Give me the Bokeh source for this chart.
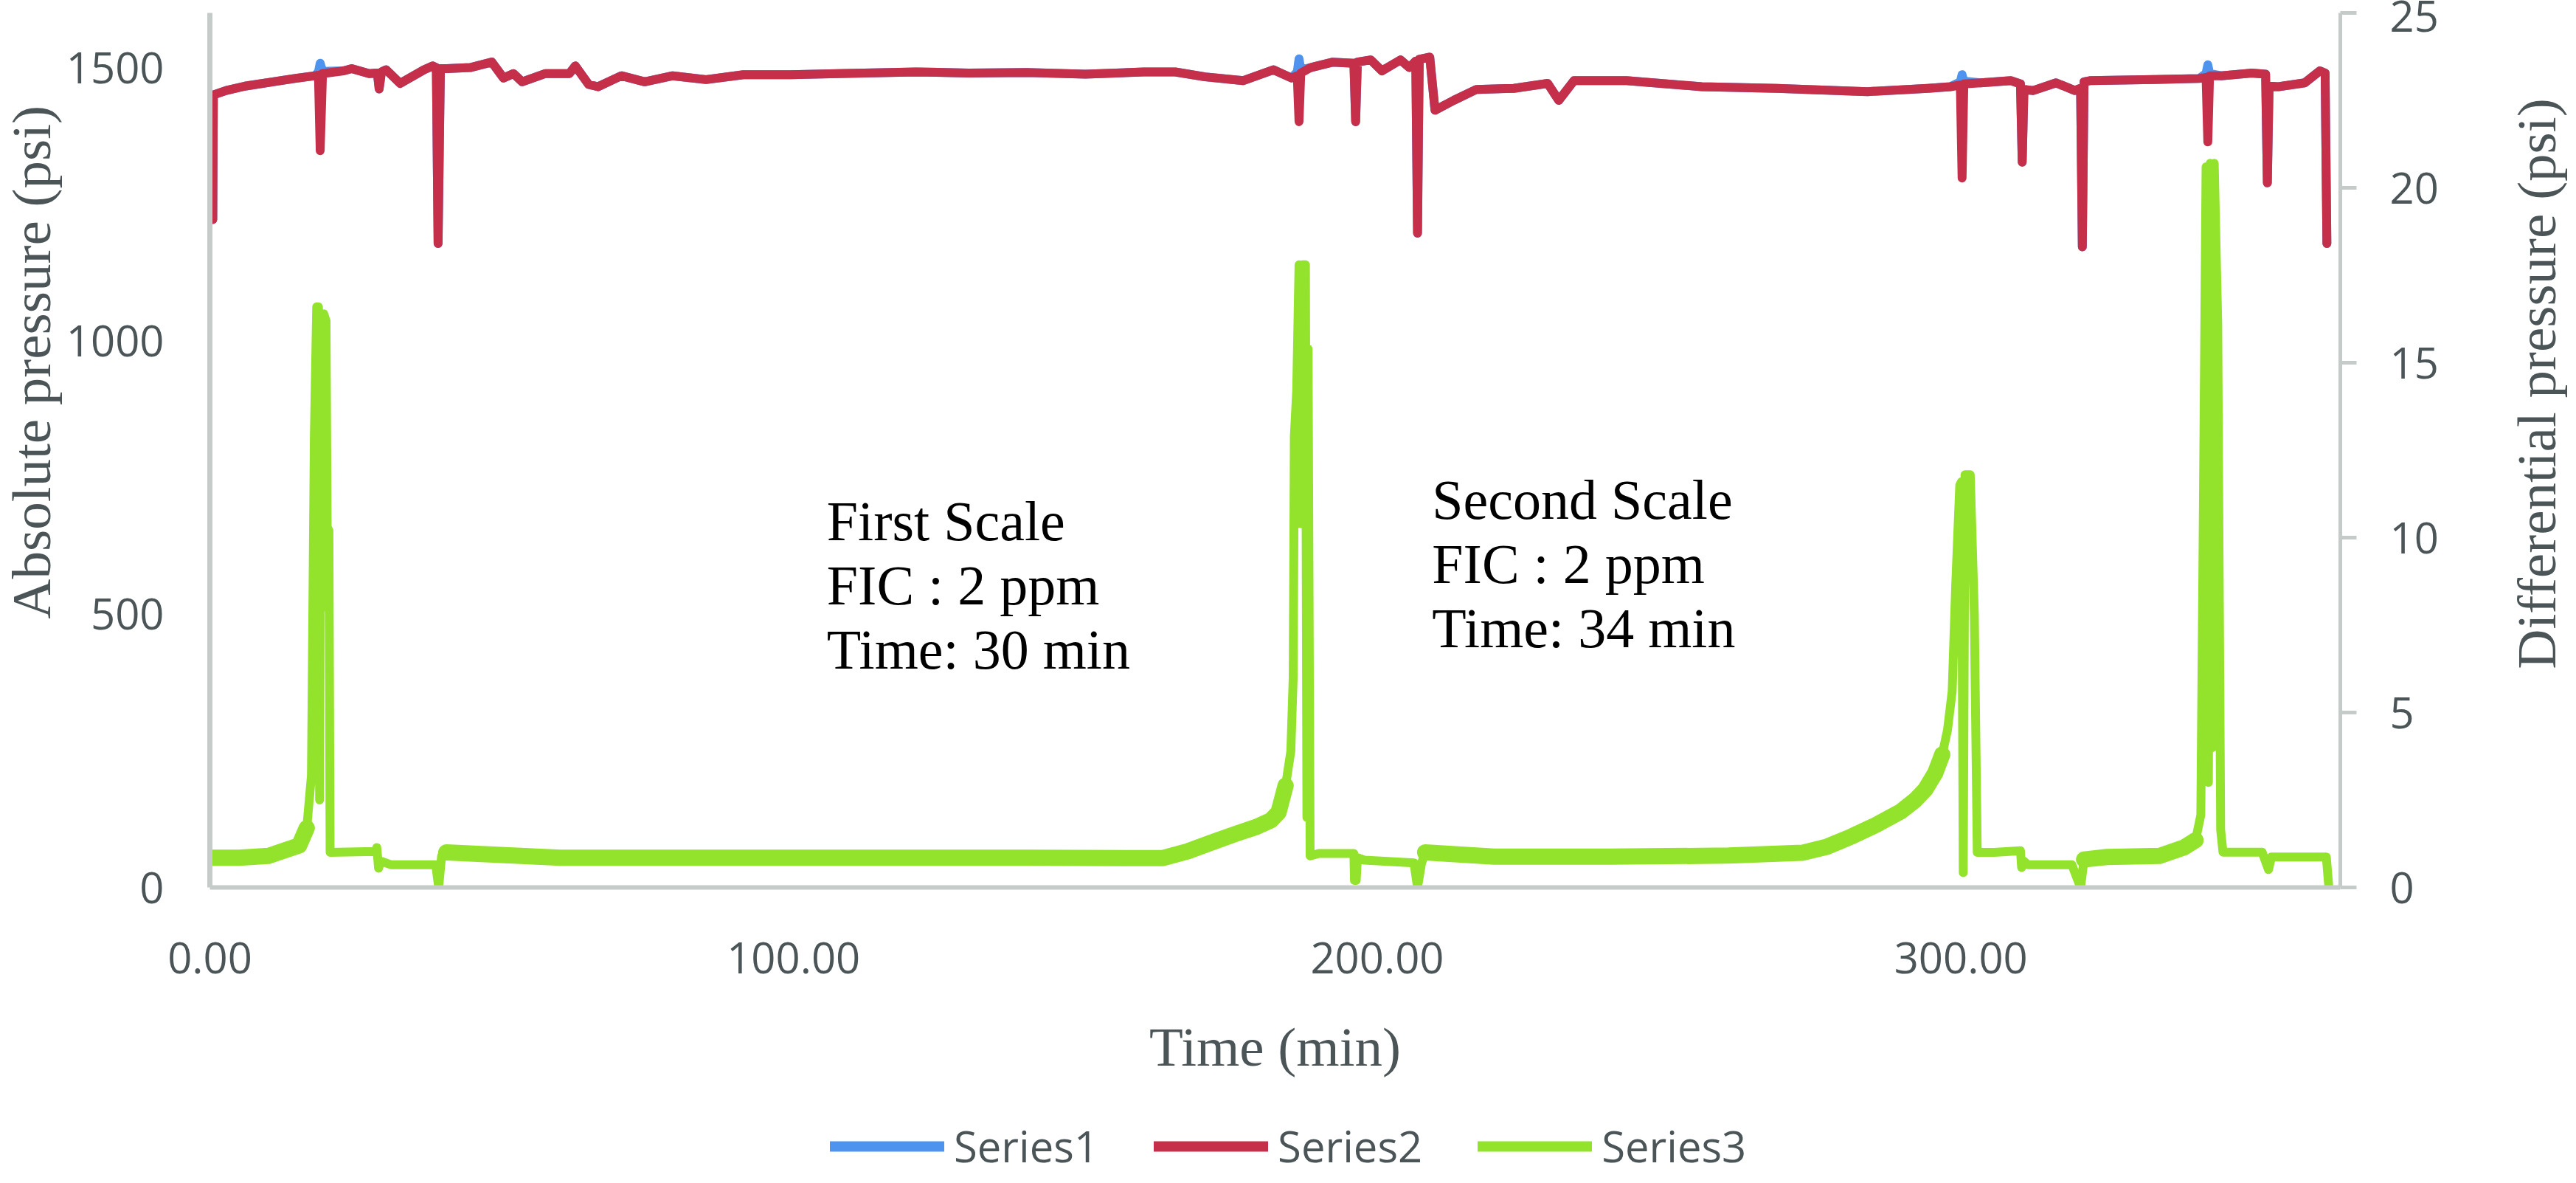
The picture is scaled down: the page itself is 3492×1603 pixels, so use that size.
import math
import numpy as np
from bokeh.plotting import figure
from bokeh.layouts import column, row
from bokeh.models import (Range1d, LinearAxis, FixedTicker, NumeralTickFormatter,
                          Label, Legend, LegendItem, ColumnDataSource)
from bokeh.embed import file_html
from bokeh.resources import INLINE

# ---------------- data ----------------
time_abs = [
    0.5, 0.6, 2.8, 6.0, 10.8, 14.5, 18.0, 18.6, 18.9, 19.3,
    22.9, 24.3, 27.3, 28.7, 29.0, 29.4, 30.2, 32.6, 36.7, 38.2,
    38.8, 39.1, 39.5, 40.6, 44.6, 48.3, 50.3, 52.0, 53.5, 57.5,
    61.6, 62.6, 64.9, 66.5, 70.5, 74.5, 79.3, 85.0, 91.4, 99.5,
    107.6, 121.0, 130.0, 140.0, 150.0, 160.0, 165.4, 170.5, 177.0, 182.2,
    185.3, 186.3, 186.6, 186.9, 188.6, 192.4, 196.0, 196.3, 196.6, 198.9,
    200.8, 204.0, 205.5, 206.6, 206.9, 207.2, 209.0, 209.9, 213.1, 217.0,
    223.4, 229.2, 231.1, 233.7, 242.7, 255.6, 268.5, 284.0, 294.3, 298.2,
    299.9, 300.2, 300.5, 303.4, 308.6, 310.2, 310.5, 310.8, 312.4, 316.3,
    319.5, 320.5, 320.8, 321.1, 322.1, 333.1, 340.8, 342.0, 342.3, 342.6,
    344.6, 349.8, 352.2, 352.5, 352.8, 354.4, 358.9, 361.5, 362.4, 362.7,
]
series2 = [
    1222, 1450, 1458, 1466, 1474, 1480, 1485, 1486, 1348, 1489,
    1494, 1498, 1489, 1490, 1461, 1492, 1496, 1471, 1496, 1503,
    1500, 1178, 1498, 1498, 1500, 1510, 1481, 1489, 1474, 1489,
    1489, 1503, 1469, 1465, 1485, 1474, 1485, 1478, 1487, 1487,
    1489, 1492, 1490, 1491, 1488, 1492, 1492, 1483, 1476, 1496,
    1481, 1485, 1401, 1490, 1500, 1510, 1508, 1401, 1510, 1514,
    1494, 1514, 1500, 1512, 1197, 1515, 1519, 1422, 1440, 1460,
    1462, 1471, 1440, 1476, 1476, 1465, 1462, 1456, 1462, 1465,
    1468, 1298, 1470, 1472, 1476, 1470, 1327, 1460, 1458, 1472,
    1458, 1462, 1172, 1474, 1476, 1478, 1480, 1482, 1364, 1485,
    1485, 1490, 1488, 1289, 1466, 1465, 1472, 1494, 1490, 1178,
]
series1 = [
    1222, 1450, 1458, 1466, 1474, 1480, 1485, 1492, 1508, 1493,
    1494, 1498, 1489, 1490, 1461, 1492, 1496, 1471, 1496, 1503,
    1500, 1178, 1498, 1498, 1500, 1510, 1481, 1489, 1474, 1489,
    1489, 1503, 1469, 1465, 1485, 1474, 1485, 1478, 1487, 1487,
    1489, 1492, 1490, 1491, 1488, 1492, 1492, 1483, 1476, 1496,
    1481, 1492, 1516, 1496, 1500, 1510, 1508, 1401, 1510, 1514,
    1494, 1514, 1500, 1512, 1197, 1515, 1519, 1422, 1440, 1460,
    1462, 1471, 1440, 1476, 1476, 1465, 1462, 1456, 1462, 1465,
    1474, 1487, 1475, 1472, 1476, 1470, 1327, 1460, 1458, 1472,
    1458, 1462, 1172, 1474, 1476, 1478, 1480, 1489, 1505, 1489,
    1485, 1490, 1488, 1289, 1466, 1465, 1472, 1494, 1490, 1178,
]
time_dp = [
    0.5, 5.0, 10.0, 15.3, 16.6, 17.4, 17.9, 18.3, 18.6, 18.8,
    19.0, 19.3, 19.5, 19.9, 20.1, 20.4, 20.6, 28.3, 28.6, 28.9,
    29.3, 31.0, 38.7, 39.2, 39.7, 40.5, 60.0, 100.0, 140.0, 159.0,
    163.3, 167.5, 171.7, 175.9, 179.3, 181.8, 183.1, 184.3, 185.2, 185.6,
    185.8, 186.2, 186.6, 186.9, 187.2, 187.7, 187.95, 188.15, 188.5, 190.0,
    196.0, 196.1, 196.4, 196.6, 197.8, 206.3, 206.9, 207.6, 208.2, 220.0,
    240.0, 260.2, 272.8, 277.0, 281.3, 285.5, 289.7, 292.2, 293.9, 295.6,
    296.8, 297.7, 298.5, 299.1, 299.8, 300.1, 300.4, 300.7, 301.6, 302.0,
    302.3, 302.8, 305.7, 310.2, 310.4, 310.8, 311.5, 319.0, 320.5, 321.1,
    325.0, 334.0, 338.2, 340.2, 341.1, 341.5, 342.0, 342.4, 342.7, 343.1,
    343.4, 344.0, 344.5, 344.9, 351.6, 352.7, 353.2, 362.6, 363.0,
]
series3 = [
    0.85, 0.85, 0.9, 1.2, 1.7, 3.2, 12.9, 16.6, 16.6, 2.5,
    16.3, 8.0, 16.4, 16.2, 10.3, 10.2, 1.0, 1.03, 1.14, 0.55,
    0.75, 0.65, 0.65, 0.0, 0.9, 1.0, 0.85, 0.85, 0.85, 0.84,
    0.84, 1.03, 1.29, 1.54, 1.73, 1.92, 2.15, 2.91, 3.9, 6.0,
    12.9, 14.2, 17.8, 10.4, 17.8, 17.8, 2.0, 15.4, 0.9, 0.97,
    0.97, 0.2, 0.2, 0.85, 0.78, 0.7, 0.0, 0.7, 1.0, 0.88,
    0.88, 0.91, 0.99, 1.16, 1.46, 1.79, 2.17, 2.5, 2.8, 3.27,
    3.8, 4.5, 5.6, 8.6, 11.5, 11.6, 0.42, 11.8, 11.8, 9.5,
    7.8, 1.0, 1.0, 1.05, 0.57, 0.75, 0.65, 0.65, 0.0, 0.8,
    0.87, 0.9, 1.14, 1.35, 2.07, 10.0, 20.6, 3.0, 20.7, 4.0,
    20.7, 16.1, 1.65, 1.01, 1.01, 0.51, 0.87, 0.87, 0.08,
]
# time spans where the differential-pressure trace is a noisy (wide) band
noisy_spans = [(0.5, 16.6), (40.5, 184.3), (208.2, 296.8), (321.1, 340.2)]

x_ticks = [0, 100, 200, 300]
left_ticks = [0, 500, 1000, 1500]
right_ticks = [0, 5, 10, 15, 20, 25]
legend_labels = ["Series1", "Series2", "Series3"]
x_title = "Time (min)"
left_title = "Absolute pressure (psi)"
right_title = "Differential pressure (psi)"
notes = [["First Scale", "FIC : 2 ppm", "Time: 30 min"],
         ["Second Scale", "FIC : 2 ppm", "Time: 34 min"]]

# ---------------- style / geometry ----------------
BLUE = "#4e93ee"
RED = "#c62f49"
GREEN = "#93e22c"
AXIS = "#c5cbc9"
TXT = "#4b5557"
SANS = "Open Sans"
SERIF = "Liberation Serif"
FIG_W = 3484
WL, WP = 86, 3226
WR = FIG_W - WL - WP
MAIN_H = 1502
LEG_H = 1587 - MAIN_H

p = figure(width=WP, height=MAIN_H, x_range=Range1d(0, 365), y_range=Range1d(0, 1600),
           output_backend="svg", toolbar_location=None, title=None,
           min_border_left=292 - 8 - WL, min_border_right=140, min_border_top=17,
           min_border_bottom=MAIN_H - 1202, background_fill_color="white",
           border_fill_color="white", outline_line_color=None)
p.extra_y_ranges = {"dp": Range1d(0, 25)}
p.grid.visible = False

src_abs = ColumnDataSource(dict(t=time_abs, s1=series1, s2=series2))
t_dp = np.array(time_dp)
v_dp = np.array(series3, dtype=float)
mask = np.zeros(len(t_dp), dtype=bool)
for a, b in noisy_spans:
    mask |= (t_dp >= a) & (t_dp <= b)
src_dp = ColumnDataSource(dict(t=t_dp, v=v_dp, vn=np.where(mask, v_dp, np.nan)))

p.line("t", "s1", source=src_abs, color=BLUE, line_width=12,
       line_join="round", line_cap="round")
p.line("t", "s2", source=src_abs, color=RED, line_width=12,
       line_join="round", line_cap="round")
p.line("t", "vn", source=src_dp, y_range_name="dp", color=GREEN, line_width=22,
       line_join="round", line_cap="round")
p.line("t", "v", source=src_dp, y_range_name="dp", color=GREEN, line_width=12,
       line_join="round", line_cap="round")


def style_axis(ax, width):
    ax.major_tick_in = 0
    ax.minor_tick_line_color = None
    ax.axis_line_color = AXIS
    ax.axis_line_width = width
    ax.major_label_text_font = SANS
    ax.major_label_text_font_size = "58px"
    ax.major_label_text_color = TXT


xa = p.xaxis[0]
style_axis(xa, 6)
xa.ticker = FixedTicker(ticks=x_ticks)
xa.formatter = NumeralTickFormatter(format="0.00")
xa.major_tick_out = 0
xa.major_tick_line_color = None
xa.major_label_standoff = 74
xa.axis_label = x_title
xa.axis_label_text_font = SERIF
xa.axis_label_text_font_size = "75px"
xa.axis_label_text_font_style = "normal"
xa.axis_label_text_color = TXT
xa.axis_label_standoff = 55

ya = p.yaxis[0]
style_axis(ya, 7)
ya.ticker = FixedTicker(ticks=left_ticks)
ya.major_tick_out = 0
ya.major_tick_line_color = None
ya.major_label_standoff = 62

ra = LinearAxis(y_range_name="dp", ticker=FixedTicker(ticks=right_ticks))
style_axis(ra, 5)
ra.major_tick_out = 22
ra.major_tick_line_width = 5
ra.major_tick_line_color = AXIS
ra.major_label_standoff = 45
p.add_layout(ra, "right")

# annotations inside the plot
note_x = [105.7, 209.4]
note_y0 = [671, 710]
note_step = 117.5
for nx, ny, lines in zip(note_x, note_y0, notes):
    for i, line in enumerate(lines):
        p.add_layout(Label(x=nx, y=ny - i * note_step, text=line, text_font=SERIF,
                           text_font_size="76px", text_color="black",
                           text_align="left", text_baseline="alphabetic"))


def blank(w, h):
    f = figure(width=w, height=h, x_range=Range1d(0, w), y_range=Range1d(0, h),
               output_backend="svg", toolbar_location=None, title=None,
               x_axis_location=None, y_axis_location=None, min_border=0,
               outline_line_color=None, background_fill_color="white",
               border_fill_color="white")
    f.grid.visible = False
    return f


# vertical axis titles (read bottom-to-top on both sides)
pleft = blank(WL, MAIN_H)
pleft.add_layout(Label(x=42, y=MAIN_H - 600, text=left_title, angle=math.pi / 2,
                       text_align="center", text_baseline="middle", text_font=SERIF,
                       text_font_size="75px", text_color=TXT))
pright = blank(WR, MAIN_H)
pright.add_layout(Label(x=126, y=MAIN_H - 637, text=right_title, angle=math.pi / 2,
                        text_align="center", text_baseline="middle", text_font=SERIF,
                        text_font_size="75px", text_color=TXT))

# legend strip under the chart
pl = figure(width=FIG_W, height=LEG_H, x_range=Range1d(-10, -9), y_range=Range1d(0, 1),
            output_backend="svg", toolbar_location=None, title=None,
            x_axis_location=None, y_axis_location=None, min_border=0,
            outline_line_color=None, background_fill_color="white",
            border_fill_color="white")
pl.grid.visible = False
l1 = pl.line("t", "s1", source=src_abs, color=BLUE, line_width=14, line_cap="round")
l2 = pl.line("t", "s2", source=src_abs, color=RED, line_width=14, line_cap="round")
l3 = pl.line("t", "v", source=src_dp, color=GREEN, line_width=14, line_cap="round")
legend = Legend(items=[LegendItem(label=legend_labels[0], renderers=[l1]),
                       LegendItem(label=legend_labels[1], renderers=[l2]),
                       LegendItem(label=legend_labels[2], renderers=[l3])],
                orientation="horizontal", location=(1125, -5),
                glyph_width=155, glyph_height=76, label_standoff=13, spacing=75,
                padding=0, margin=0, border_line_color=None, background_fill_alpha=0,
                label_text_font=SANS, label_text_font_size="58px",
                label_text_color=TXT)
pl.add_layout(legend)

layout = column(row(pleft, p, pright), pl)
open("out.html", "w").write(file_html(layout, INLINE))
